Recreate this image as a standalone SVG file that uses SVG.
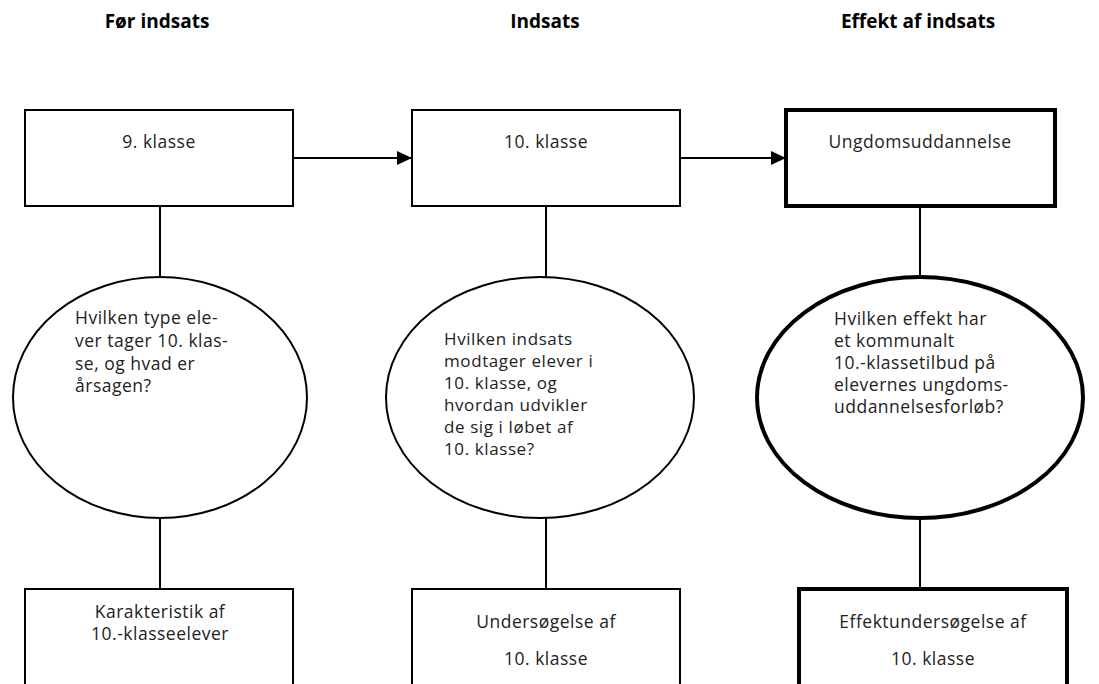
<svg xmlns="http://www.w3.org/2000/svg" width="1099" height="684" viewBox="0 0 1099 684">
<style>
  .hdr { font-family: "Open Sans", "Noto Sans", "Liberation Sans", sans-serif; font-size: 19px; font-weight: bold; fill: #000; text-anchor: middle; }
  .t { font-family: "Open Sans", "Noto Sans", "Liberation Sans", sans-serif; font-size: 17.5px; letter-spacing: 0.5px; fill: #222; }
  .s { font-size: 17px; letter-spacing: 0.6px; }
  .c { text-anchor: middle; }
  .thin { fill: #fff; stroke: #000; stroke-width: 2; }
  .thick { fill: #fff; stroke: #000; stroke-width: 4; }
  .ln { stroke: #000; stroke-width: 2; fill: none; }
</style>
<defs>
  <marker id="arr" markerWidth="16" markerHeight="14" refX="15" refY="7" orient="auto" markerUnits="userSpaceOnUse">
    <path d="M0,0 L15,7 L0,14 Z" fill="#000"/>
  </marker>
</defs>
<rect width="1099" height="684" fill="#fff"/>
<g id="headers">
  <text class="hdr" x="157" y="28">Før indsats</text>
  <text class="hdr" x="545" y="28">Indsats</text>
  <text class="hdr" x="918" y="28">Effekt af indsats</text>
</g>
<g id="connectors">
  <line class="ln" x1="293" y1="158" x2="412" y2="158" marker-end="url(#arr)"/>
  <line class="ln" x1="680" y1="158" x2="786" y2="158" marker-end="url(#arr)"/>
  <line class="ln" x1="160" y1="206" x2="160" y2="277"/>
  <line class="ln" x1="160" y1="518" x2="160" y2="589"/>
  <line class="ln" x1="546" y1="206" x2="546" y2="277"/>
  <line class="ln" x1="546" y1="518" x2="546" y2="589"/>
  <line class="ln" x1="920" y1="206" x2="920" y2="277"/>
  <line class="ln" x1="920" y1="518" x2="920" y2="589"/>
</g>
<g id="n9klasse">
  <rect class="thin" x="25" y="110" width="268" height="96"/>
  <text class="t c" x="159" y="148">9. klasse</text>
</g>
<g id="n10klasse">
  <rect class="thin" x="412" y="110" width="268" height="96"/>
  <text class="t c" x="546" y="148">10. klasse</text>
</g>
<g id="nUngdom">
  <rect class="thick" x="786" y="110" width="269" height="96"/>
  <text class="t c" x="920" y="148">Ungdomsuddannelse</text>
</g>
<g id="q1">
  <ellipse class="thin" cx="160" cy="397.5" rx="147" ry="120.5"/>
  <text class="t" x="75" y="324">Hvilken type ele-</text>
  <text class="t" x="75" y="347">ver tager 10. klas-</text>
  <text class="t" x="75" y="370">se, og hvad er</text>
  <text class="t" x="75" y="392">årsagen?</text>
</g>
<g id="q2">
  <ellipse class="thin" cx="540" cy="397.5" rx="154" ry="120.5"/>
  <text class="t s" x="444" y="345">Hvilken indsats</text>
  <text class="t s" x="444" y="367">modtager elever i</text>
  <text class="t s" x="444" y="389">10. klasse, og</text>
  <text class="t s" x="444" y="411">hvordan udvikler</text>
  <text class="t s" x="444" y="433">de sig i løbet af</text>
  <text class="t s" x="444" y="455">10. klasse?</text>
</g>
<g id="q3">
  <ellipse class="thick" cx="920" cy="397.5" rx="163" ry="120.5"/>
  <text class="t" x="834" y="325">Hvilken effekt har</text>
  <text class="t" x="834" y="347">et kommunalt</text>
  <text class="t" x="834" y="369">10.-klassetilbud på</text>
  <text class="t" x="834" y="391">elevernes ungdoms-</text>
  <text class="t" x="834" y="413">uddannelsesforløb?</text>
</g>
<g id="r1">
  <rect class="thin" x="25" y="589" width="268" height="110"/>
  <text class="t c" x="160" y="618">Karakteristik af</text>
  <text class="t c" x="160" y="640">10.-klasseelever</text>
</g>
<g id="r2">
  <rect class="thin" x="412" y="589" width="268" height="110"/>
  <text class="t c" x="546" y="628">Undersøgelse af</text>
  <text class="t c" x="546" y="665">10. klasse</text>
</g>
<g id="r3">
  <rect class="thick" x="799" y="589" width="268" height="110"/>
  <text class="t c" x="933" y="628">Effektundersøgelse af</text>
  <text class="t c" x="933" y="665">10. klasse</text>
</g>
</svg>
